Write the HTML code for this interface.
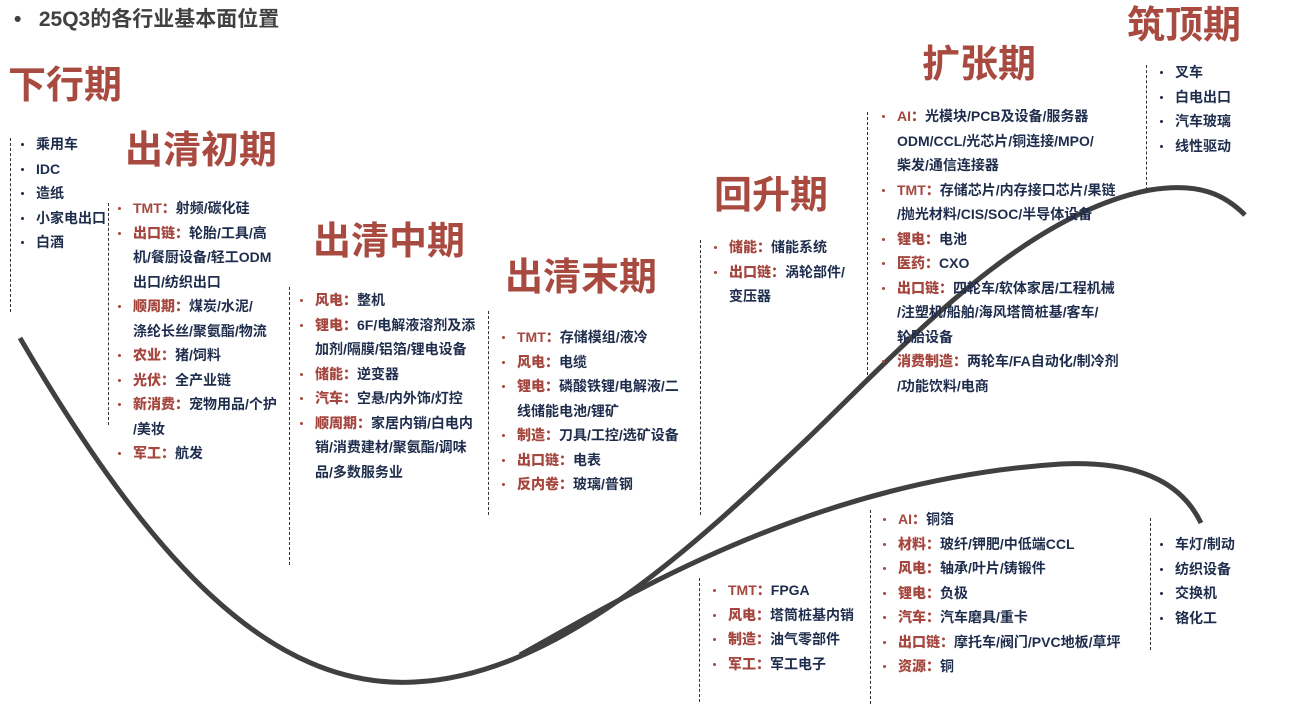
<!DOCTYPE html>
<html><head><meta charset="utf-8"><style>
body{margin:0;width:1297px;height:704px;background:#fff;position:relative;overflow:hidden;font-family:"Liberation Sans","Noto Sans CJK SC",sans-serif;}
.h{position:absolute;color:#a84a40;font-weight:bold;font-size:38px;line-height:40px;white-space:nowrap;}
.c{position:absolute;font-size:14px;font-weight:bold;line-height:24.5px;color:#1f2d4d;white-space:nowrap;}
.c div{position:relative;}
.c div:before{content:"";position:absolute;left:-15px;top:11px;width:3px;height:3px;background:#a5473f;border-radius:50%;}
.c.n div:before{background:#1f2d4d;}
.c div.x:before{display:none;}
.c b{color:#a5473f;}
.d{position:absolute;border-left:1px dashed #333;width:0;}
</style></head><body>
<div style="position:absolute;left:14px;top:3px;font-size:21px;font-weight:bold;color:#404040;white-space:nowrap;">•&nbsp;&nbsp;&nbsp;25Q3的各行业基本面位置</div>

<svg width="1297" height="704" style="position:absolute;left:0;top:0">
<path d="M20,338 C150,560 270,690 415,682 C560,675 700,540 806,440 C900,350 1020,215 1150,190 C1200,182 1225,195 1245,215" fill="none" stroke="#404040" stroke-width="5"/>
<path d="M520,655 C620,600 810,480 1061,464 C1150,460 1185,490 1201,523" fill="none" stroke="#404040" stroke-width="5"/>
</svg>

<div class="h" style="left:8px;top:66px">下行期</div>
<div class="h" style="left:125px;top:131px">出清初期</div>
<div class="h" style="left:313px;top:222px">出清中期</div>
<div class="h" style="left:505px;top:258px">出清末期</div>
<div class="h" style="left:714px;top:176px">回升期</div>
<div class="h" style="left:922px;top:45px">扩张期</div>
<div class="h" style="left:1127px;top:6px">筑顶期</div>

<div class="d" style="left:10px;top:138px;height:174px"></div>
<div class="c n" style="left:36px;top:132px">
<div>乘用车</div><div>IDC</div><div>造纸</div><div>小家电出口</div><div>白酒</div></div>

<div class="d" style="left:108px;top:203px;height:222px"></div>
<div class="c" style="left:133px;top:196px">
<div><b>TMT：</b>射频/碳化硅</div>
<div><b>出口链：</b>轮胎/工具/高</div><div class="x">机/餐厨设备/轻工ODM</div><div class="x">出口/纺织出口</div>
<div><b>顺周期：</b>煤炭/水泥/</div><div class="x">涤纶长丝/聚氨酯/物流</div>
<div><b>农业：</b>猪/饲料</div>
<div><b>光伏：</b>全产业链</div>
<div><b>新消费：</b>宠物用品/个护</div><div class="x">/美妆</div>
<div><b>军工：</b>航发</div></div>

<div class="d" style="left:289px;top:287px;height:278px"></div>
<div class="c" style="left:315px;top:288px">
<div><b>风电：</b>整机</div>
<div><b>锂电：</b>6F/电解液溶剂及添</div><div class="x">加剂/隔膜/铝箔/锂电设备</div>
<div><b>储能：</b>逆变器</div>
<div><b>汽车：</b>空悬/内外饰/灯控</div>
<div><b>顺周期：</b>家居内销/白电内</div><div class="x">销/消费建材/聚氨酯/调味</div><div class="x">品/多数服务业</div></div>

<div class="d" style="left:488px;top:311px;height:204px"></div>
<div class="c" style="left:517px;top:325px">
<div><b>TMT：</b>存储模组/液冷</div>
<div><b>风电：</b>电缆</div>
<div><b>锂电：</b>磷酸铁锂/电解液/二</div><div class="x">线储能电池/锂矿</div>
<div><b>制造：</b>刀具/工控/选矿设备</div>
<div><b>出口链：</b>电表</div>
<div><b>反内卷：</b>玻璃/普钢</div></div>

<div class="d" style="left:700px;top:240px;height:275px"></div>
<div class="c" style="left:729px;top:235px">
<div><b>储能：</b>储能系统</div>
<div><b>出口链：</b>涡轮部件/</div><div class="x">变压器</div></div>

<div class="d" style="left:867px;top:112px;height:268px"></div>
<div class="c" style="left:897px;top:104px">
<div><b>AI：</b>光模块/PCB及设备/服务器</div><div class="x">ODM/CCL/光芯片/铜连接/MPO/</div><div class="x">柴发/通信连接器</div>
<div><b>TMT：</b>存储芯片/内存接口芯片/果链</div><div class="x">/抛光材料/CIS/SOC/半导体设备</div>
<div><b>锂电：</b>电池</div>
<div><b>医药：</b>CXO</div>
<div><b>出口链：</b>四轮车/软体家居/工程机械</div><div class="x">/注塑机/船舶/海风塔筒桩基/客车/</div><div class="x">轮胎设备</div>
<div><b>消费制造：</b>两轮车/FA自动化/制冷剂</div><div class="x">/功能饮料/电商</div></div>

<div class="d" style="left:1146px;top:65px;height:125px"></div>
<div class="c n" style="left:1175px;top:60px">
<div>叉车</div><div>白电出口</div><div>汽车玻璃</div><div>线性驱动</div></div>

<div class="d" style="left:699px;top:578px;height:124px"></div>
<div class="c" style="left:728px;top:578px">
<div><b>TMT：</b>FPGA</div>
<div><b>风电：</b>塔筒桩基内销</div>
<div><b>制造：</b>油气零部件</div>
<div><b>军工：</b>军工电子</div></div>

<div class="d" style="left:870px;top:510px;height:194px"></div>
<div class="c" style="left:898px;top:507px">
<div><b>AI：</b>铜箔</div>
<div><b>材料：</b>玻纤/钾肥/中低端CCL</div>
<div><b>风电：</b>轴承/叶片/铸锻件</div>
<div><b>锂电：</b>负极</div>
<div><b>汽车：</b>汽车磨具/重卡</div>
<div><b>出口链：</b>摩托车/阀门/PVC地板/草坪</div>
<div><b>资源：</b>铜</div></div>

<div class="d" style="left:1150px;top:518px;height:132px"></div>
<div class="c n" style="left:1175px;top:532px">
<div>车灯/制动</div><div>纺织设备</div><div>交换机</div><div>铬化工</div></div>
</body></html>
